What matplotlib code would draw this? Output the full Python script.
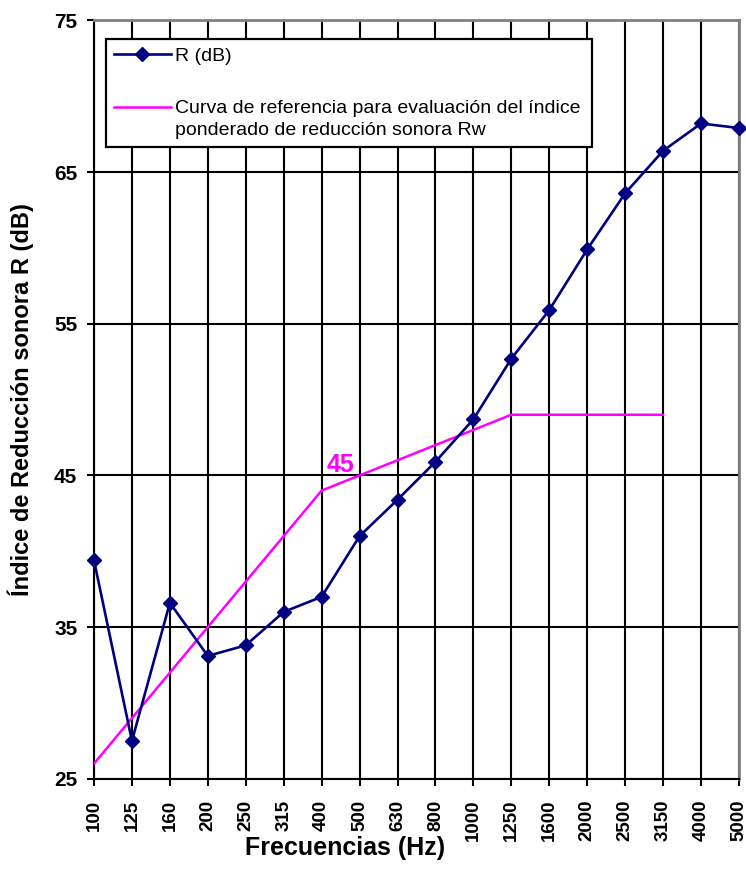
import numpy as np
import matplotlib.pyplot as plt
from matplotlib.legend_handler import HandlerLine2D

plt.rcParams["font.family"] = ["Liberation Sans", "DejaVu Sans"]

# ------------------- data -------------------
freqs = ["100", "125", "160", "200", "250", "315", "400", "500", "630",
         "800", "1000", "1250", "1600", "2000", "2500", "3150", "4000", "5000"]
r_db = [39.4, 27.5, 36.6, 33.1, 33.8, 36.0, 37.0, 41.0, 43.4,
        45.9, 48.7, 52.7, 55.9, 59.9, 63.6, 66.4, 68.2, 67.9]
# ISO 717-1 reference curve shifted to Rw = 45 (100 .. 3150 Hz)
ref_curve = [26, 29, 32, 35, 38, 41, 44, 45, 46, 47, 48, 49, 49, 49, 49, 49]
rw_value = 45
y_ticks = [25, 35, 45, 55, 65, 75]


class _FirstLineHandler(HandlerLine2D):
    """Legend handle aligned with the first line of a two-line label."""
    def __init__(self, shift, **kw):
        super().__init__(**kw)
        self.shift = shift

    def create_artists(self, legend, orig_handle, xdescent, ydescent,
                       width, height, fontsize, trans):
        artists = super().create_artists(legend, orig_handle, xdescent,
                                         ydescent, width, height,
                                         fontsize, trans)
        for a in artists:
            a.set_ydata(np.asarray(a.get_ydata()) + self.shift * fontsize)
        return artists


x = np.arange(len(freqs))
x_ref = np.arange(len(ref_curve))

fig = plt.figure(figsize=(7.46, 8.84), dpi=100)
ax = fig.add_axes([0.126, 0.119, 0.8646, 0.858])

ref_line, = ax.plot(x_ref, ref_curve, color="#ff00ff", lw=1.8, zorder=3,
                    label="Curva de referencia para evaluación del índice\n"
                          "ponderado de reducción sonora Rw")
r_line, = ax.plot(x, r_db, color="#000080", lw=1.9, marker="D",
                  markersize=7.5, zorder=4, clip_on=False, label="R (dB)")

ax.text(6.5, 45.2, str(rw_value), color="#ff00ff", fontsize=18,
        fontweight="bold", ha="center", va="baseline", zorder=5)

ax.set_xlim(0, len(freqs) - 1)
ax.set_ylim(25, 75)
ax.set_xticks(x)
ax.set_xticklabels(freqs, rotation=90, fontsize=13.5, fontweight="bold",
                   family=["Liberation Sans Narrow", "Liberation Sans"])
ax.set_yticks(y_ticks)
ax.set_yticklabels([str(v) for v in y_ticks], fontsize=15,
                   fontweight="bold")
ax.tick_params(axis="both", direction="out", length=5, width=1.5,
               color="black")
ax.tick_params(axis="y", pad=7)
ax.tick_params(axis="x", pad=10)

ax.grid(True, color="black", lw=1.5)
ax.set_axisbelow(True)
for side in ["left", "bottom"]:
    ax.spines[side].set_color("black")
    ax.spines[side].set_linewidth(1.5)
for side in ["top", "right"]:
    ax.spines[side].set_color("#808080")
    ax.spines[side].set_linewidth(2.0)

ax.set_xlabel("Frecuencias (Hz)", fontsize=18, fontweight="bold")
ax.xaxis.set_label_coords(0.389, -0.076)
ax.set_ylabel("Índice de Reducción sonora R (dB)", fontsize=17,
              fontweight="bold")
ax.yaxis.set_label_coords(-0.093, 0.5)

leg = ax.legend([r_line, ref_line],
                [r_line.get_label(), ref_line.get_label()],
                loc="upper left", mode="expand",
                bbox_to_anchor=(0.0186, 0.5, 0.7535, 0.475),
                fontsize=14, handlelength=2.95, handletextpad=0.2,
                labelspacing=1.8, borderpad=0.4, fancybox=False,
                framealpha=1, edgecolor="black", borderaxespad=0,
                handler_map={ref_line: _FirstLineHandler(0.6)})
leg.get_frame().set_linewidth(1.6)
for t in leg.get_texts():
    t.set_linespacing(1.4)

fig.savefig("out.png", dpi=100)
